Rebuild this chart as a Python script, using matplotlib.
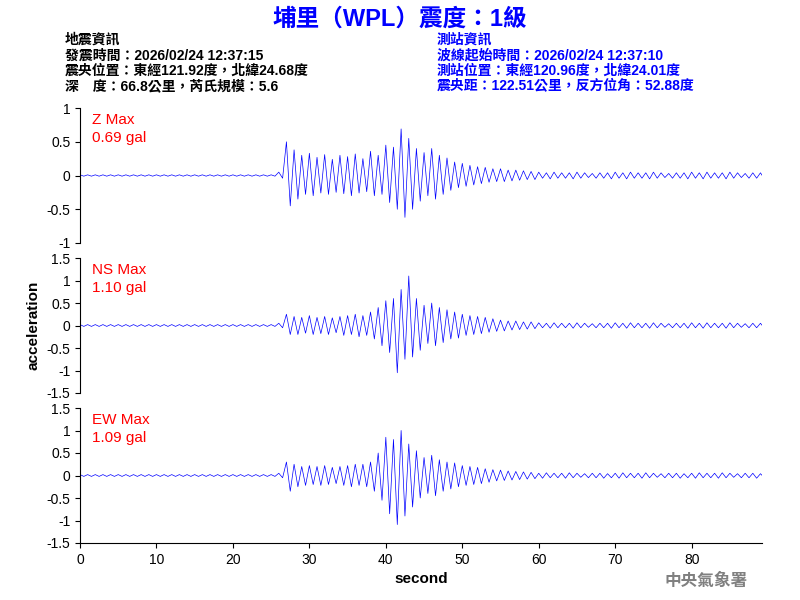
import matplotlib
matplotlib.use("Agg")
import matplotlib.pyplot as plt

plt.rcParams['font.family'] = ['Liberation Sans', 'Noto Sans CJK TC']

# per-second peak values (upper, lower) for each component, t = 0..89 s
z_up = [0.01]*26 + [0.05, 0.5, 0.38, 0.3, 0.33, 0.27, 0.31, 0.24, 0.3, 0.28, 0.32, 0.25, 0.36, 0.3,
        0.45, 0.42, 0.69, 0.55, 0.4, 0.34, 0.4, 0.3, 0.26, 0.2, 0.18, 0.15, 0.13, 0.12, 0.1, 0.1,
        0.08, 0.08, 0.07, 0.06] + [0.05, 0.04, 0.05, 0.04, 0.04, 0.05, 0.04, 0.03, 0.04, 0.04]*3
z_lo = [-0.01]*26 + [-0.04, -0.45, -0.35, -0.28, -0.3, -0.26, -0.28, -0.25, -0.27, -0.3, -0.26, -0.24, -0.3, -0.28,
        -0.4, -0.5, -0.62, -0.5, -0.38, -0.3, -0.35, -0.28, -0.22, -0.18, -0.16, -0.14, -0.12, -0.1, -0.09, -0.09,
        -0.08, -0.07, -0.06, -0.06] + [-0.04, -0.05, -0.04, -0.04, -0.05, -0.04, -0.03, -0.04, -0.04, -0.05]*3
ns_up = [0.02]*26 + [0.05, 0.25, 0.2, 0.18, 0.22, 0.18, 0.2, 0.17, 0.2, 0.22, 0.25, 0.22, 0.3, 0.4,
         0.55, 0.6, 0.8, 1.1, 0.6, 0.45, 0.5, 0.4, 0.35, 0.3, 0.25, 0.22, 0.2, 0.18, 0.15, 0.12,
         0.1, 0.1, 0.08, 0.08] + [0.06, 0.05, 0.06, 0.05, 0.05, 0.06, 0.05, 0.04, 0.05, 0.05]*3
ns_lo = [-0.02]*26 + [-0.05, -0.2, -0.2, -0.17, -0.2, -0.18, -0.2, -0.16, -0.22, -0.2, -0.25, -0.22, -0.3, -0.45,
         -0.6, -1.05, -0.75, -0.7, -0.55, -0.4, -0.45, -0.38, -0.3, -0.28, -0.22, -0.2, -0.18, -0.15, -0.13, -0.12,
         -0.1, -0.09, -0.08, -0.07] + [-0.05, -0.06, -0.05, -0.05, -0.06, -0.05, -0.04, -0.05, -0.05, -0.06]*3
ew_up = [0.02]*26 + [0.05, 0.3, 0.25, 0.2, 0.22, 0.2, 0.22, 0.18, 0.2, 0.22, 0.25, 0.25, 0.3, 0.5,
         0.85, 0.8, 1.0, 0.7, 0.55, 0.4, 0.45, 0.35, 0.3, 0.28, 0.22, 0.2, 0.18, 0.15, 0.13, 0.12,
         0.1, 0.09, 0.08, 0.07] + [0.05, 0.06, 0.05, 0.05, 0.06, 0.05, 0.04, 0.05, 0.05, 0.04]*3
ew_lo = [-0.02]*26 + [-0.05, -0.35, -0.25, -0.22, -0.2, -0.22, -0.2, -0.18, -0.22, -0.25, -0.22, -0.25, -0.35, -0.55,
         -0.85, -1.09, -0.9, -0.7, -0.5, -0.4, -0.45, -0.35, -0.3, -0.25, -0.22, -0.2, -0.18, -0.15, -0.12, -0.11,
         -0.1, -0.09, -0.08, -0.07] + [-0.06, -0.05, -0.05, -0.06, -0.05, -0.04, -0.05, -0.05, -0.06, -0.05]*3

labels = ["Z Max\n0.69 gal", "NS Max\n1.10 gal", "EW Max\n1.09 gal"]
limits = [1, 1.5, 1.5]
yticks = [[-1, -0.5, 0, 0.5, 1], [-1.5, -1, -0.5, 0, 0.5, 1, 1.5], [-1.5, -1, -0.5, 0, 0.5, 1, 1.5]]

fig = plt.figure(figsize=(8, 6), dpi=100)
bottoms = [0.595, 0.345, 0.095]
for k, (up, lo) in enumerate([(z_up, z_lo), (ns_up, ns_lo), (ew_up, ew_lo)]):
    ax = fig.add_axes([0.1, bottoms[k], 0.8525, 0.225])
    xs, ys = [], []
    for i in range(len(up)):
        xs += [i, i + 0.5]
        ys += [up[i], lo[i]]
    ax.plot(xs, ys, color='blue', lw=0.5)
    ax.set_xlim(0, 89.2)
    ax.set_ylim(-limits[k], limits[k])
    ax.set_yticks(yticks[k])
    ax.set_yticklabels([f"{v:g}" for v in yticks[k]], fontsize=10)
    for s in ['top', 'right']:
        ax.spines[s].set_visible(False)
    if k < 2:
        ax.spines['bottom'].set_visible(False)
        ax.set_xticks([])
    else:
        ax.set_xticks(range(0, 90, 10))
        ax.tick_params(labelsize=10)
        ax.set_xlabel("second", fontsize=11, fontweight='bold')
    if k == 1:
        ax.set_ylabel("acceleration", fontsize=11, fontweight='bold')
    ax.text(1.6, limits[k] * 0.93, labels[k], color='red', fontsize=11, va='top', linespacing=1.4)

fig.text(0.5, 0.968, "埔里（WPL）震度：1級", color='blue', fontsize=17, fontweight='bold', ha='center', va='center')
left = "地震資訊\n發震時間：2026/02/24 12:37:15\n震央位置：東經121.92度，北緯24.68度\n深　度：66.8公里，芮氏規模：5.6"
right = "測站資訊\n波線起始時間：2026/02/24 12:37:10\n測站位置：東經120.96度，北緯24.01度\n震央距：122.51公里，反方位角：52.88度"
fig.text(0.081, 0.945, left, color='black', fontsize=10, va='top', fontweight='bold', linespacing=1.12)
fig.text(0.546, 0.945, right, color='blue', fontsize=10, va='top', fontweight='bold', linespacing=1.12)
fig.text(0.935, 0.032, "中央氣象署", color='gray', fontsize=12, ha='right', va='center', fontweight='bold')

fig.savefig("out.png", dpi=100)
